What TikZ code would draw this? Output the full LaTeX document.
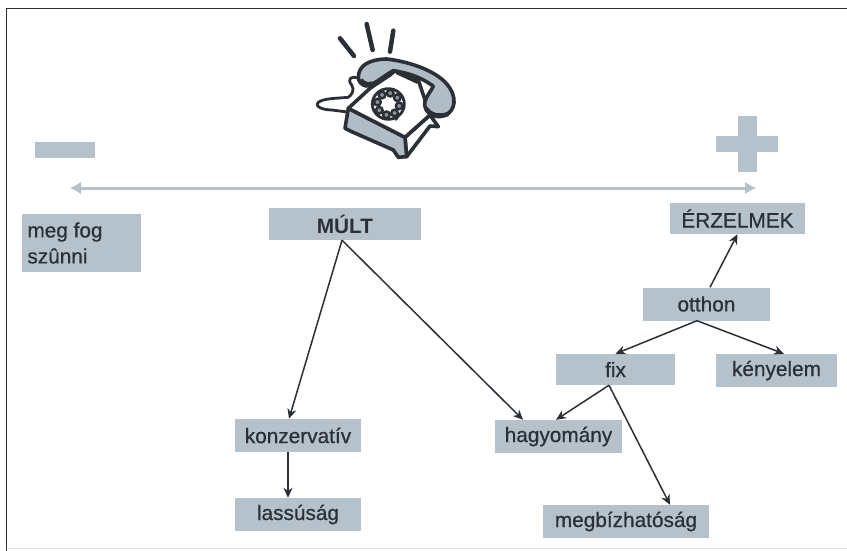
\documentclass[tikz,border=0pt]{standalone}
\usepackage{fontspec}
\setmainfont{Liberation Sans}
\newfontfamily\lab[FakeBold=0.6]{Liberation Sans}
\usetikzlibrary{arrows.meta}
\definecolor{boxc}{HTML}{B5C2CC}
\definecolor{inkc}{HTML}{2B3036}
\definecolor{framec}{HTML}{303030}
\definecolor{phoneg}{HTML}{B0BCC6}
\tikzset{
 lbl/.style={fill=boxc,draw=none,inner sep=0pt,text=inkc,font=\lab\fontsize{20.8}{24}\selectfont,anchor=center},
 conn/.style={draw=inkc,line width=1.5pt,-{Stealth[length=10pt,width=9pt]},shorten >=0pt},
 axis/.style={draw=boxc,line width=3pt,{Latex[length=11pt,width=13pt]}-{Latex[length=11pt,width=13pt]}},
 sym/.style={fill=boxc,draw=none},
 phl/.style={draw=inkc,line width=3.6pt,line cap=round,line join=round},
 pht/.style={draw=inkc,line width=4.5pt,line cap=round},
}
\begin{document}
\begin{tikzpicture}[x=1pt,y=-1pt]
\useasboundingbox (0,0) rectangle (847,551);
\fill[white] (0,0) rectangle (847,551);
% frame
\draw[framec,line width=1.3pt] (6.5,551) -- (6.5,8.5) -- (847,8.5);
\draw[black!10,line width=.6pt] (6.5,548) -- (847,548);
% phone, drawn in 3x crop coordinates
\begin{scope}[xshift=290pt,yshift=-0pt,x=0.3333pt,y=-0.3333pt]
 \draw[pht] (150,115) -- (192,168);
 \draw[pht] (230,72) -- (248,150);
 \draw[pht] (310,92) -- (300,155);
 % cord
 \draw[phl,line width=2.8pt] (205,235) .. controls (180,225) and (172,240) .. (185,255)
   .. controls (195,270) and (185,285) .. (175,292)
   .. controls (140,295) and (100,295) .. (85,307)
   .. controls (72,320) and (100,330) .. (125,330) -- (172,336);
 % right face
 \filldraw[phl,fill=white] (345,412) -- (420,345) -- (445,380) -- (420,378) -- (350,470) -- cycle;
 % front face
 \filldraw[phl,fill=phoneg] (175,325) -- (165,385) -- (185,395) -- (310,450) -- (325,472) -- (350,470) -- (345,412) -- cycle;
 % top of body
 \filldraw[phl,fill=white] (175,325) -- (240,265) -- (300,225) -- (320,208) -- (385,240) -- (420,345) -- (345,412) -- cycle;
 % handset
 \filldraw[phl,fill=phoneg] (205,232) .. controls (205,195) and (240,178) .. (290,177)
   .. controls (360,185) and (450,215) .. (480,265)
   .. controls (505,305) and (490,345) .. (450,350)
   .. controls (420,350) and (400,330) .. (405,305)
   .. controls (410,285) and (425,272) .. (430,258)
   .. controls (415,250) and (390,225) .. (310,212)
   .. controls (285,225) and (245,260) .. (228,258)
   .. controls (215,255) and (205,245) .. (205,232) -- cycle;
 \draw[inkc,line width=5pt] (320,215) -- (385,245);
 \draw[inkc,line width=4.5pt] (212,240) .. controls (222,252) and (235,257) .. (248,250);
 \draw[inkc,line width=4.5pt] (408,325) .. controls (420,345) and (445,352) .. (475,342);
 % dial
 \filldraw[phl,line width=2.8pt,fill=white] (295,312) ellipse [x radius=48,y radius=46];
 \foreach \a in {10,55,100,145,190,235,280,325}
   \filldraw[draw=inkc,line width=2.4pt,fill=phoneg!70!inkc] (295,312)+(\a:33) circle (10);
 \draw[phl,line width=3pt] (325,345) -- (318,358);
\end{scope}
% plus and minus
\fill[sym] (35,142) rectangle (95,158);
\fill[sym] (738,116) rectangle (757,172);
\fill[sym] (716,136) rectangle (778,152);
% axis
\coordinate (axl) at (70,188);
\coordinate (axr) at (756,188);
\draw[axis] (axl) -- (axr);
% boxes
\node[lbl,minimum width=119pt,minimum height=58pt,align=left] (szunni) at (81.5,243)
  {\hspace*{-33pt}meg fog\\[2pt]\hspace*{-33pt}szûnni};
\node[lbl,minimum width=152pt,minimum height=32pt,font=\fontsize{20.8}{24}\selectfont\bfseries] (mult) at (345,224) {MÚLT};
\node[lbl,minimum width=135pt,minimum height=31pt] (erz) at (737.5,218.5) {ÉRZELMEK};
\node[lbl,minimum width=127pt,minimum height=33pt] (otthon) at (706.5,304) {otthon};
\node[lbl,minimum width=119pt,minimum height=31pt] (fix) at (615.5,369.5) {fix};
\node[lbl,minimum width=121pt,minimum height=33pt] (keny) at (776.5,370.5) {kényelem};
\node[lbl,minimum width=127pt,minimum height=33pt] (hagy) at (558.5,436.5) {hagyomány};
\node[lbl,minimum width=166pt,minimum height=33pt] (megb) at (626,521.5) {megbízhatóság};
\node[lbl,minimum width=126pt,minimum height=33pt] (konz) at (298,435.5) {konzervatív};
\node[lbl,minimum width=126pt,minimum height=33pt] (lass) at (298,514.5) {lassúság};
% connectors
\draw[conn] ([xshift=-3pt]mult.south) -- ([xshift=-9pt]konz.north);
\draw[conn] ([xshift=-3pt]mult.south) -- ([xshift=-35.5pt]hagy.north);
\draw[conn] ([xshift=-10pt]konz.south) -- ([xshift=-10pt]lass.north);
\draw[conn] ([xshift=-9.5pt]otthon.south) -- (fix.north);
\draw[conn] ([xshift=-9.5pt]otthon.south) -- ([xshift=7.5pt]keny.north);
\draw[conn] ([xshift=3.5pt]otthon.north) -- (erz.south);
\draw[conn] ([xshift=-6.5pt]fix.south) -- ([xshift=-2.5pt]hagy.north);
\draw[conn] ([xshift=-6.5pt]fix.south) -- ([xshift=44pt]megb.north);
\end{tikzpicture}
\end{document}
